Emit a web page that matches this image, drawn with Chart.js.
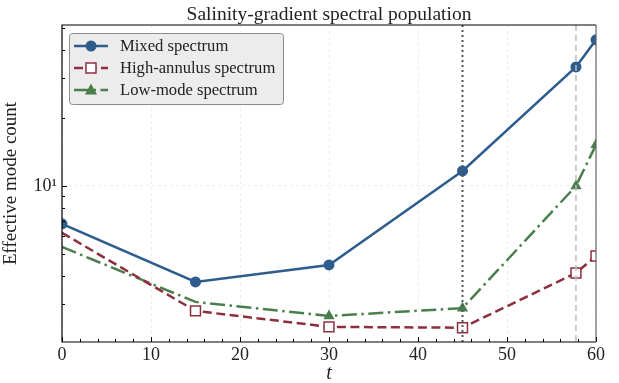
<!DOCTYPE html>
<html>
<head>
<meta charset="utf-8">
<script src="https://cdn.jsdelivr.net/npm/chart.js@4.4.1/dist/chart.umd.min.js"></script>
<style>
  html, body { margin: 0; padding: 0; background: #fff; }
  #wrap { width: 619px; height: 383px; }
</style>
</head>
<body>
<div id="wrap"><canvas id="spec"></canvas></div>
<script>
// sample times and effective mode counts per spectrum
const tValues = [0, 15, 30, 45, 57.75, 60];
const mixedCounts = [6.8, 3.76, 4.47, 11.65, 33.6, 44.3];
const highAnnulusCounts = [6.2, 2.80, 2.38, 2.36, 4.12, 4.90];
const lowModeCounts = [5.37, 3.07, 2.66, 2.88, 10.0, 15.2];
const seriesLabels = ['Mixed spectrum', 'High-annulus spectrum', 'Low-mode spectrum'];

// reference times marked with vertical lines
const markerTimes = [45, 57.75];

// axis ranges and tick positions
const xRange = [0, 60];
const xMajorTicks = [0, 10, 20, 30, 40, 50, 60];
const xMinorTicks = [2, 4, 6, 8, 12, 14, 16, 18, 22, 24, 26, 28, 32, 34, 36, 38, 42, 44, 46, 48, 52, 54, 56, 58];
const yRange = [2.04, 51.5];
const yMajorTicks = [10];
const yMinorTicks = [3, 4, 5, 6, 7, 8, 9, 20, 30, 40, 50];

const SERIF = '"Liberation Serif", "DejaVu Serif", serif';
const BLUE = '#2d5c8d', RED = '#8c303e', GREEN = '#4a7e4c';

const pts = ys => tValues.map((t, i) => ({ x: t, y: ys[i] }));

// inward ticks, frame, vertical markers, title and legend
const decor = {
  id: 'decor',
  afterDatasetsDraw(chart) {
    const { ctx, chartArea: a, scales: { x, y } } = chart;
    ctx.save();

    // vertical reference lines
    const xa = x.getPixelForValue(markerTimes[0]);
    ctx.strokeStyle = '#555';
    ctx.lineWidth = 2;
    ctx.setLineDash([2, 3]);
    ctx.beginPath(); ctx.moveTo(xa, a.top); ctx.lineTo(xa, a.bottom); ctx.stroke();
    const xb = x.getPixelForValue(markerTimes[1]);
    ctx.strokeStyle = '#bdbdbd';
    ctx.lineWidth = 1.5;
    ctx.setLineDash([6, 4]);
    ctx.beginPath(); ctx.moveTo(xb, a.top); ctx.lineTo(xb, a.bottom); ctx.stroke();
    ctx.setLineDash([]);

    // frame
    ctx.lineWidth = 1.2;
    ctx.strokeStyle = '#000';
    ctx.beginPath();
    ctx.moveTo(a.right, a.top); ctx.lineTo(a.left, a.top); ctx.lineTo(a.left, a.bottom); ctx.lineTo(a.right, a.bottom);
    ctx.stroke();
    ctx.strokeStyle = '#666';
    ctx.beginPath(); ctx.moveTo(a.right, a.top); ctx.lineTo(a.right, a.bottom); ctx.stroke();

    // inward ticks
    ctx.strokeStyle = '#000';
    ctx.lineWidth = 1;
    const tick = (x0, y0, x1, y1) => { ctx.beginPath(); ctx.moveTo(x0, y0); ctx.lineTo(x1, y1); ctx.stroke(); };
    xMajorTicks.forEach(v => { const p = Math.round(x.getPixelForValue(v)) + 0.5; tick(p, a.bottom, p, a.bottom - 5); });
    xMinorTicks.forEach(v => { const p = Math.round(x.getPixelForValue(v)) + 0.5; tick(p, a.bottom, p, a.bottom - 3); });
    yMajorTicks.forEach(v => { const p = Math.round(y.getPixelForValue(v)) + 0.5; tick(a.left, p, a.left + 5, p); });
    yMinorTicks.forEach(v => { const p = Math.round(y.getPixelForValue(v)) + 0.5; tick(a.left, p, a.left + 3, p); });

    // title over the plot area
    ctx.fillStyle = '#222';
    ctx.font = '19.5px ' + SERIF;
    ctx.textAlign = 'center';
    ctx.textBaseline = 'alphabetic';
    ctx.fillText('Salinity-gradient spectral population', (a.left + a.right) / 2, 20);

    // legend box
    const bx = a.left + 7, by = a.top + 8, bw = 214, bh = 71;
    ctx.fillStyle = 'rgba(235,235,235,0.95)';
    ctx.strokeStyle = '#8a8a8a';
    ctx.lineWidth = 1;
    ctx.beginPath();
    ctx.roundRect(bx + 0.5, by + 0.5, bw, bh, 3);
    ctx.fill(); ctx.stroke();

    chart.data.datasets.forEach((ds, i) => {
      const ry = by + 13 + i * 22;
      const lx0 = bx + 5, lx1 = bx + 39, mx = bx + 22;
      ctx.strokeStyle = ds.borderColor;
      ctx.lineWidth = ds.borderWidth;
      ctx.setLineDash(ds.borderDash || []);
      ctx.beginPath(); ctx.moveTo(lx0, ry); ctx.lineTo(lx1, ry); ctx.stroke();
      ctx.setLineDash([]);
      ctx.fillStyle = ds.pointBackgroundColor;
      ctx.strokeStyle = ds.pointBorderColor;
      ctx.lineWidth = ds.pointBorderWidth;
      if (ds.pointStyle === 'circle') {
        ctx.beginPath(); ctx.arc(mx, ry, 5.5, 0, Math.PI * 2); ctx.fill();
      } else if (ds.pointStyle === 'rect') {
        ctx.fillRect(mx - 5, ry - 5, 10, 10); ctx.strokeRect(mx - 5, ry - 5, 10, 10);
      } else {
        ctx.beginPath(); ctx.moveTo(mx, ry - 6.5); ctx.lineTo(mx + 6, ry + 4.5); ctx.lineTo(mx - 6, ry + 4.5); ctx.closePath(); ctx.fill();
      }
      ctx.fillStyle = '#222';
      ctx.font = '16.6px ' + SERIF;
      ctx.textAlign = 'left';
      ctx.textBaseline = 'middle';
      ctx.fillText(ds.label, bx + 51, ry + 1);
    });
    ctx.restore();
  }
};

new Chart(document.getElementById('spec'), {
  type: 'scatter',
  data: {
    datasets: [
      {
        label: seriesLabels[0], data: pts(mixedCounts), showLine: true,
        borderColor: BLUE, borderWidth: 2.5,
        pointStyle: 'circle', pointRadius: 5.5, pointBackgroundColor: BLUE, pointBorderColor: BLUE, pointBorderWidth: 0,
        clip: 0
      },
      {
        label: seriesLabels[1], data: pts(highAnnulusCounts), showLine: true,
        borderColor: RED, borderWidth: 2.5, borderDash: [9, 4.5],
        pointStyle: 'rect', pointRadius: [0, 7, 7, 7, 7, 7], pointBackgroundColor: '#fff', pointBorderColor: RED, pointBorderWidth: 1.5,
        clip: 0
      },
      {
        label: seriesLabels[2], data: pts(lowModeCounts), showLine: true,
        borderColor: GREEN, borderWidth: 2.5, borderDash: [15, 4.5, 2.5, 4.5],
        pointStyle: 'triangle', pointRadius: [0, 0, 6.5, 6.5, 6.5, 6.5], pointBackgroundColor: GREEN, pointBorderColor: GREEN, pointBorderWidth: 0,
        clip: 0
      }
    ]
  },
  options: {
    responsive: true,
    maintainAspectRatio: false,
    animation: false,
    layout: { padding: { left: 0, right: 23, top: 25, bottom: 0 } },
    plugins: { legend: { display: false }, title: { display: false }, tooltip: { enabled: false } },
    elements: { line: { tension: 0 } },
    scales: {
      x: {
        type: 'linear', min: xRange[0], max: xRange[1],
        afterBuildTicks: s => { s.ticks = xMajorTicks.map(v => ({ value: v })); },
        afterFit: s => { s.height = 41; },
        ticks: { font: { family: SERIF, size: 18 }, color: '#222', padding: 2, maxRotation: 0 },
        grid: { color: 'rgba(0,0,0,0.07)', lineWidth: 1, drawTicks: false },
        border: { display: false, dash: [3, 3] },
        title: { display: true, text: 't', font: { family: SERIF, size: 20, style: 'italic' }, color: '#222', padding: { top: 0, bottom: -3 } }
      },
      y: {
        type: 'logarithmic', min: yRange[0], max: yRange[1],
        afterBuildTicks: s => { s.ticks = yMajorTicks.map(v => ({ value: v, major: true })); },
        afterFit: s => { s.width = 62; },
        ticks: { font: { family: SERIF, size: 18 }, color: '#222', padding: 5, callback: v => (v === 10 ? '10\u00b9' : '') },
        grid: { color: 'rgba(0,0,0,0.07)', lineWidth: 1, drawTicks: false },
        border: { display: false, dash: [3, 3] },
        title: { display: true, text: 'Effective mode count', font: { family: SERIF, size: 19 }, color: '#222', padding: { top: 0, bottom: 4 } }
      }
    }
  },
  plugins: [decor]
});
</script>
</body>
</html>
